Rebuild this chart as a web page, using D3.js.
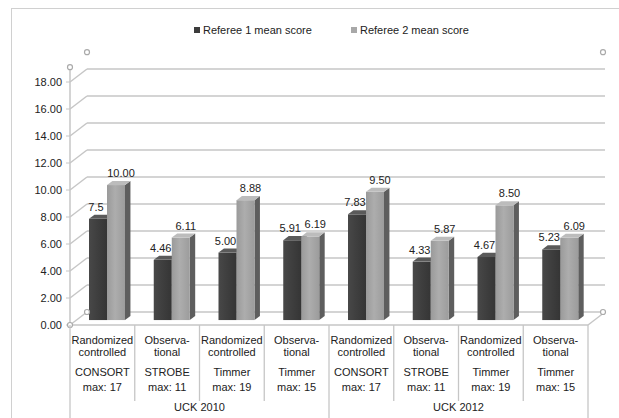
<!DOCTYPE html>
<html>
<head>
<meta charset="utf-8">
<script src="https://cdn.jsdelivr.net/npm/d3@7"></script>
<style>
  body { margin: 0; background: #fff; }
  svg text { font-family: "Liberation Sans", Arial, sans-serif; fill: #222; }
</style>
</head>
<body>
<svg id="chart" width="619" height="418"></svg>
<script>

/*    ========    DATA    =========    */

var designLines = [
    ["Randomized", "controlled"], ["Observa-", "tional"],
    ["Randomized", "controlled"], ["Observa-", "tional"],
    ["Randomized", "controlled"], ["Observa-", "tional"],
    ["Randomized", "controlled"], ["Observa-", "tional"]
];
var checklistLines = [
    ["CONSORT", "max: 17"], ["STROBE", "max: 11"], ["Timmer", "max: 19"], ["Timmer", "max: 15"],
    ["CONSORT", "max: 17"], ["STROBE", "max: 11"], ["Timmer", "max: 19"], ["Timmer", "max: 15"]
];
var groups = ["UCK 2010", "UCK 2012"];
var seriesNames = ["Referee 1 mean score", "Referee 2 mean score"];

var referee1 = [7.5, 4.46, 5.00, 5.91, 7.83, 4.33, 4.67, 5.23];
var referee2 = [10.00, 6.11, 8.88, 6.19, 9.50, 5.87, 8.50, 6.09];
var referee1Labels = ["7.5", "4.46", "5.00", "5.91", "7.83", "4.33", "4.67", "5.23"];
var referee2Labels = ["10.00", "6.11", "8.88", "6.19", "9.50", "5.87", "8.50", "6.09"];

var yTicks = [0, 2, 4, 6, 8, 10, 12, 14, 16, 18];

/*    ========    SETTINGS    =========    */

var svg = d3.select('#chart');

var DX = 17, DY = -13;          // depth of the 3d box
var BAR_F = 0.38;                // where the bars sit in depth
var BAR_D = 0.32;                // bar depth
var AXIS_TOP = 19.1;
var GRID = "#c6c6c6";

var x = d3.scaleBand().domain(d3.range(8)).range([70, 588]);
var y = d3.scaleLinear().domain([0, 18]).range([325, 82]);

var defs = svg.append("defs");

function grad(id, stops) {
    var g = defs.append("linearGradient").attr("id", id)
        .attr("x1", "0%").attr("x2", "100%").attr("y1", "0%").attr("y2", "0%");
    stops.forEach(function(s) {
        g.append("stop").attr("offset", s[0]).attr("stop-color", s[1]);
    });
}
grad("g1", [["0%", "#484848"], ["40%", "#404040"], ["100%", "#353535"]]);
grad("g2", [["0%", "#9a9a9a"], ["45%", "#adadad"], ["100%", "#9c9c9c"]]);

var colors = [
    { front: "url(#g1)", side: "#262626", top: "#5a5a5a", legend: "#3c3c3c" },
    { front: "url(#g2)", side: "#5e5e5e", top: "#bcbcbc", legend: "#a8a8a8" }
];

/*    ========    FRAME    =========    */

svg.append("rect")
    .attr("x", 11.5).attr("y", 8.5)
    .attr("width", 640).attr("height", 440)
    .attr("fill", "none")
    .attr("stroke", "#d0d0d0");

// == Back wall gridlines == //
var gl = svg.append("g").attr("class", "grid");

yTicks.forEach(function(v) {
    gl.append("line")
        .attr("x1", 70).attr("y1", y(v))
        .attr("x2", 70 + DX).attr("y2", y(v) + DY)
        .attr("stroke", GRID).attr("stroke-width", 1.5);
    gl.append("line")
        .attr("x1", 70 + DX).attr("y1", y(v) + DY)
        .attr("x2", 588 + DX).attr("y2", y(v) + DY)
        .attr("stroke", GRID).attr("stroke-width", 1.5);
});

// floor right edge
gl.append("line")
    .attr("x1", 588).attr("y1", y(0))
    .attr("x2", 588 + DX).attr("y2", y(0) + DY)
    .attr("stroke", GRID).attr("stroke-width", 1.5);

/*    ========    BARS    =========    */

var series = [referee1, referee2];
var seriesLabels = [referee1Labels, referee2Labels];
var BW = 18;
var sdx = DX * BAR_D, sdy = DY * BAR_D;
var fdy = DY * BAR_F;

var bars = svg.append("g").attr("id", "bars");

series.forEach(function(vals, s) {
    vals.forEach(function(v, i) {
        var x0 = x(i) + 19 + s * BW;
        var x1 = x0 + BW;
        var yb = y(0) + fdy;
        var yt = y(v) + fdy;
        var c = colors[s];

        bars.append("path")
            .attr("d", "M" + x1 + "," + yb + "L" + (x1 + sdx) + "," + (yb + sdy) +
                "L" + (x1 + sdx) + "," + (yt + sdy) + "L" + x1 + "," + yt + "Z")
            .attr("fill", c.side);
        bars.append("rect")
            .attr("x", x0).attr("y", yt)
            .attr("width", BW).attr("height", yb - yt)
            .attr("fill", c.front);
        bars.append("path")
            .attr("d", "M" + x0 + "," + yt + "L" + (x0 + sdx) + "," + (yt + sdy) +
                "L" + (x1 + sdx) + "," + (yt + sdy) + "L" + x1 + "," + yt + "Z")
            .attr("fill", c.top);

        svg.append("text")
            .attr("x", x0 + BW / 2 + (s === 0 ? -2 : 5))
            .attr("y", yt - 8)
            .attr("text-anchor", "middle")
            .style("font-size", "11px")
            .text(seriesLabels[s][i]);
    });
});

/*    ========    AXES    =========    */

var ax = svg.append("g").attr("class", "axis");

ax.append("line")
    .attr("x1", 70).attr("y1", y(0))
    .attr("x2", 70).attr("y2", y(AXIS_TOP))
    .attr("stroke", GRID).attr("stroke-width", 1.5);

ax.append("line")
    .attr("x1", 70).attr("y1", y(0))
    .attr("x2", 588).attr("y2", y(0))
    .attr("stroke", GRID).attr("stroke-width", 1.5);

yTicks.forEach(function(v) {
    ax.append("line")
        .attr("x1", 66).attr("y1", y(v))
        .attr("x2", 70).attr("y2", y(v))
        .attr("stroke", GRID);
    ax.append("text")
        .attr("x", 62).attr("y", y(v))
        .attr("dy", "0.35em")
        .attr("text-anchor", "end")
        .style("font-size", "11px")
        .text(v.toFixed(2));
});

// handles at the corners of the box
var handles = [
    [70, y(AXIS_TOP)], [70 + DX, y(AXIS_TOP) + DY - 2], [586 + DX, y(AXIS_TOP) + DY - 2],
    [70, y(0)], [70 + DX, y(0) + DY], [586 + DX, y(0) + DY]
];
handles.forEach(function(h) {
    ax.append("circle")
        .attr("cx", h[0]).attr("cy", h[1]).attr("r", 2.5)
        .attr("fill", "#fff").attr("stroke", "#aaa").attr("stroke-width", 1.2);
});

// == Category labels == //
var cl = svg.append("g").attr("class", "categories");

d3.range(9).forEach(function(i) {
    var xx = i < 8 ? x(i) : 588;
    var outer = (i % 4 === 0);
    cl.append("line")
        .attr("x1", xx).attr("y1", y(0))
        .attr("x2", xx).attr("y2", outer ? 418 : 401)
        .attr("stroke", GRID).attr("stroke-width", 1.3);
});

d3.range(8).forEach(function(i) {
    var cx = x(i) + x.bandwidth() / 2;
    var lines = designLines[i].concat(checklistLines[i]);
    var ys = [340, 352.5, 372.5, 387.5];
    lines.forEach(function(t, k) {
        cl.append("text")
            .attr("x", cx).attr("y", ys[k])
            .attr("dy", "0.35em")
            .attr("text-anchor", "middle")
            .style("font-size", "11px")
            .text(t);
    });
});

groups.forEach(function(g, j) {
    cl.append("text")
        .attr("x", (x(j * 4) + (j === 0 ? x(4) : 588)) / 2)
        .attr("y", 407)
        .attr("dy", "0.35em")
        .attr("text-anchor", "middle")
        .style("font-size", "11px")
        .text(g);
});

/*    ========    LEGEND    =========    */

var legX = [194, 351];
seriesNames.forEach(function(name, s) {
    var lg = svg.append("g").attr("transform", "translate(" + legX[s] + ",30)");
    lg.append("rect")
        .attr("x", 0).attr("y", -3)
        .attr("width", 6).attr("height", 6)
        .attr("fill", colors[s].legend);
    lg.append("text")
        .attr("x", 9).attr("y", 0)
        .attr("dy", "0.35em")
        .style("font-size", "11px")
        .text(name);
});

</script>
</body>
</html>
